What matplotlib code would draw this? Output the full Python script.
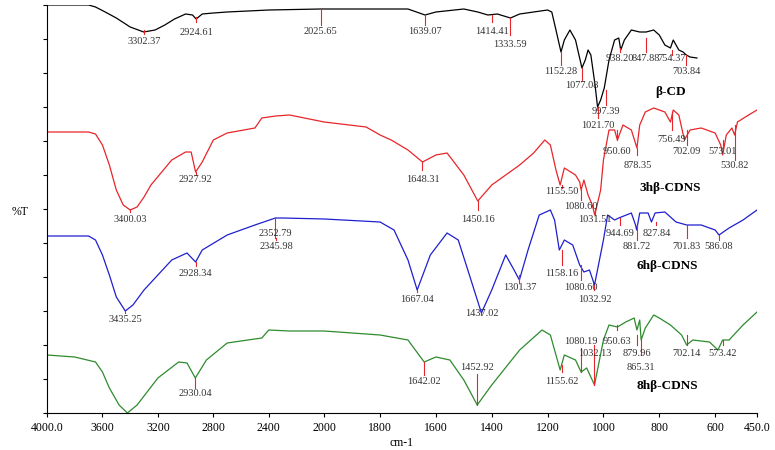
import numpy as np
import matplotlib
matplotlib.use("Agg")
import matplotlib.pyplot as plt

# spectra: wavenumber (cm-1) and transmittance-like level (arbitrary, plotted on inverted axis)
bcd_w = [4000,3700,3650,3580,3500,3400,3302,3220,3150,3080,3000,2950,2924,2880,2800,2700,2400,2025,1800,1700,1639,1600,1500,1450,1414,1380,1333,1300,1250,1200,1185,1170,1152,1140,1120,1100,1077,1065,1055,1045,1030,1021,1010,997,980,960,945,938,925,900,870,847,820,800,780,760,750,730,715,703,690,665]
bcd_t = [5,5,7,12,18,27,32,30,25,19,14,15,19,14,13,12,10,9,9,9,15,12,9,12,15,14,18,14,12,10,12,30,52,40,30,40,68,60,50,55,85,107,100,88,60,40,38,50,40,30,32,32,30,35,45,48,40,50,52,55,57,58]
h3_w = [4000,3700,3650,3600,3550,3500,3450,3400,3350,3300,3250,3100,3000,2960,2928,2880,2800,2700,2500,2450,2350,2250,2000,1850,1800,1760,1700,1648,1600,1560,1500,1450,1400,1300,1250,1210,1190,1170,1155,1140,1100,1085,1080,1070,1055,1040,1031,1010,1000,980,960,950,930,900,880,870,850,820,780,760,750,730,710,690,650,600,580,573,560,540,530,520,480,450]
h3_t = [132,132,134,145,165,190,205,210,207,197,185,160,152,152,172,162,140,133,128,118,116,115,122,127,135,140,150,162,155,153,175,201,185,165,153,140,145,170,185,168,175,182,190,180,195,205,215,190,160,130,130,140,125,130,148,125,112,108,112,122,110,115,140,130,128,133,145,155,135,128,135,122,115,110]
h6_w = [4000,3700,3650,3600,3550,3500,3435,3380,3300,3200,3100,2990,2928,2880,2700,2500,2352,2300,2000,1800,1750,1700,1667,1620,1560,1520,1480,1437,1400,1350,1320,1301,1270,1230,1190,1175,1158,1140,1110,1085,1070,1050,1032,1000,985,960,945,900,885,881,870,840,828,815,780,740,702,650,600,586,550,500,450]
h6_t = [236,236,240,255,275,297,311,305,290,275,260,253,262,250,235,225,218,218,219,222,230,260,290,255,233,240,275,313,290,255,270,280,250,215,210,220,250,240,245,265,272,270,285,240,215,220,218,213,225,230,213,213,222,213,212,222,225,225,230,235,228,220,210]
h8_w = [4000,3800,3650,3600,3550,3480,3420,3350,3200,3050,2990,2930,2850,2700,2450,2400,2250,2000,1800,1700,1642,1600,1550,1500,1452,1400,1300,1220,1190,1170,1155,1140,1100,1080,1060,1032,1000,980,950,920,890,880,870,865,850,820,800,760,720,702,680,620,590,573,550,500,450]
h8_t = [355,357,362,372,388,405,413,405,378,362,363,378,360,343,338,330,331,331,335,340,362,357,360,380,405,385,350,330,335,355,370,355,360,372,368,385,340,325,327,322,318,330,320,340,328,315,318,325,335,345,340,342,350,340,340,325,312]

series_names = ["β-CD", "3hβ-CDNS", "6hβ-CDNS", "8hβ-CDNS"]
series_w = [bcd_w, h3_w, h6_w, h8_w]
series_t = [bcd_t, h3_t, h6_t, h8_t]
colors = ["black", "#e8252a", "#1f1fd0", "#2e8b2e"]

# peak annotations: (label, wavenumber, marker top, marker bottom, text level)
peaks = [
 [("3302.37",3302,30,34,41),("2924.61",2924,17,22,32),("2025.65",2025,9,25,31),("1639.07",1639,15,25,31),
  ("1414.41",1400,15,22,31),("1333.59",1333,18,35,44),("1152.28",1152,52,65,71),("1077.08",1077,68,80,85),
  ("997.39",990,90,105,111),("1021.70",1021,107,118,125),("938.20",940,48,52,58),("847.88",847,38,52,58),
  ("754.37",754,50,55,58),("703.84",703,55,65,71)],
 [("3400.03",3400,210,212,219),("2927.92",2928,172,175,179),("1648.31",1648,162,170,179),("1450.16",1450,201,210,219),
  ("1155.50",1150,185,188,192),("1080.60",1080,190,200,206),("1031.51",1031,208,215,219),("950.60",950,130,140,152),
  ("878.35",878,148,155,166),("756.49",756,112,130,139),("702.09",702,130,145,152),("573.01",573,140,150,152),
  ("530.82",530,125,160,166)],
 [("2352.79",2352,218,238,233),("2345.98",2345,238,240,246),("2928.34",2928,262,266,274),("3435.25",3435,311,313,320),
  ("1667.04",1667,290,292,300),("1437.02",1437,313,315,313),("1301.37",1301,275,283,287),("1158.16",1150,250,265,273),
  ("1080.60",1080,265,280,287),("1032.92",1032,285,290,300),("944.69",940,218,225,233),("827.84",810,222,225,233),
  ("881.72",881,225,240,246),("701.83",701,225,238,246),("586.08",586,235,240,246)],
 [("2930.04",2930,378,388,394),("1642.02",1642,362,375,381),("1452.92",1452,374,405,367),("1155.62",1150,365,372,381),
  ("1080.19",1080,348,372,341),("950.63",950,325,330,341),("1032.13",1032,345,385,354),("879.96",879,335,345,354),
  ("865.31",865,340,355,367),("702.14",702,335,345,354),("573.42",573,340,345,354)],
]
name_pos = [(760, 92), (760, 188), (770, 266), (770, 386)]

xticks = [4000, 3600, 3200, 2800, 2400, 2000, 1800, 1600, 1400, 1200, 1000, 800, 600, 450]
xticklabels = ["4000.0", "3600", "3200", "2800", "2400", "2000", "1800", "1600", "1400", "1200", "1000", "800", "600", "450.0"]

R = 0.4964
def fwd(w):
    w = np.asarray(w, float)
    return np.where(w > 2000, 2000 + (w - 2000) * R, w)
def inv(u):
    u = np.asarray(u, float)
    return np.where(u > 2000, 2000 + (u - 2000) / R, u)

plt.rcParams['font.family'] = ['Liberation Serif', 'DejaVu Serif']
fig = plt.figure(figsize=(7.75, 4.5), dpi=100)
ax = fig.add_axes([47/775, 37/450, 710/775, 408/450])
ax.set_xscale('function', functions=(fwd, inv))

for w, t, c in zip(series_w, series_t, colors):
    ax.plot(w, t, color=c, lw=0.9)
for pk in peaks:
    for lab, wn, y0, y1, ty in pk:
        ax.plot([wn, wn], [y0, y1], color="#e8252a", lw=0.8)
        ax.text(wn, ty, lab, fontsize=7.5, ha='center', va='center', color='#333333')
for name, (nx, ny) in zip(series_names, name_pos):
    ax.text(nx, ny, name, fontsize=9.5, fontweight='bold', ha='center', va='center')

ax.set_xlim(4000, 450)
ax.set_ylim(413, 5)
ax.set_xticks(xticks)
ax.set_xticklabels(xticklabels, fontsize=8.5)
ax.set_yticks(np.arange(413, 4, -34))
ax.set_yticklabels([])
ax.tick_params(axis='both', direction='out', length=3)
ax.spines['top'].set_visible(False)
ax.spines['right'].set_visible(False)
ax.set_xlabel("cm-1", fontsize=8.5, labelpad=2)
fig.text(20/775, 1 - 212/450, "%T", fontsize=8.5, ha='center', va='center')
fig.savefig("out.png", dpi=100)
